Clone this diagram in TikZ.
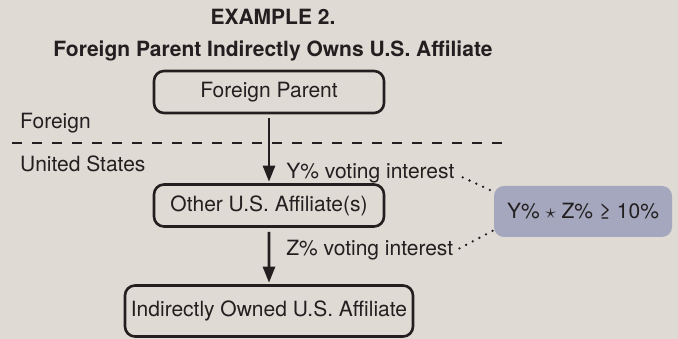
\documentclass[tikz,border=0pt]{standalone}
\usepackage{fontspec}
\setmainfont{TeX Gyre Heros}
\usetikzlibrary{arrows.meta}
\definecolor{paper}{RGB}{224,218,212}
\definecolor{ink}{RGB}{35,31,32}
\definecolor{slate}{RGB}{164,167,189}
\tikzset{
  entity/.style={draw=ink, line width=2.6pt, rounded corners=10pt, text=ink,
    minimum width=230pt, minimum height=42pt, inner sep=4pt},
  vote/.style={anchor=base west, inner sep=0pt, xshift=16pt, text=ink},
  region/.style={anchor=base west, inner sep=0pt, text=ink},
  heading/.style={anchor=base, inner sep=0pt, text=ink, font=\fontsize{21}{25}\selectfont\bfseries},
  link/.style={draw=ink, line width=2.6pt, line cap=round, dash pattern=on 0pt off 7.5pt}
}
\begin{document}
\begin{tikzpicture}[x=1pt, y=-1pt, every node/.append style={font=\fontsize{21}{25}\selectfont},
    level 1/.style={level distance=113.5pt}, level 2/.style={level distance=105.5pt},
    edge from parent/.style={draw=ink, line width=2.6pt, shorten <=4pt, shorten >=1.5pt,
      -{Triangle[length=16pt,width=12pt]}}]
\fill[paper] (0,0) rectangle (678,339);
\useasboundingbox (0,0) rectangle (678,339);
\node[heading] (example) at (273,25) {EXAMPLE 2.};
\node[heading] (title) at (273,57) {Foreign Parent Indirectly Owns U.S. Affiliate};
\node[region] (foreign) at (20,129) {Foreign};
\node[region] (us) at (20,172) {United States};
\draw[draw=ink, line width=2.7pt, dash pattern=on 10pt off 10pt] (12,143) -- (506,143);
\node[entity] (parent) at (269,92) {Foreign Parent}
    child {node[entity] (other) {Other U.S. Affiliate(s)}
        child {node[entity, minimum width=288pt, minimum height=51pt] (indirect) {Indirectly Owned U.S. Affiliate}
            edge from parent node[vote, pos=0.49] (zvote) {Z\% voting interest}}
        edge from parent node[vote, pos=0.93] (yvote) {Y\% voting interest}};
\node[fill=slate, rounded corners=10pt, minimum width=178pt, minimum height=51pt, text=ink]
    (product) at (583,211.5) {Y\% $\star$ Z\% ≥ 10\%};
\draw[link] ([shift={(7pt,1pt)}]yvote.base east) -- ([yshift=-6pt]product.north west);
\draw[link] ([shift={(5pt,7pt)}]zvote.base east) -- ([yshift=7pt]product.south west);
\end{tikzpicture}
\end{document}
